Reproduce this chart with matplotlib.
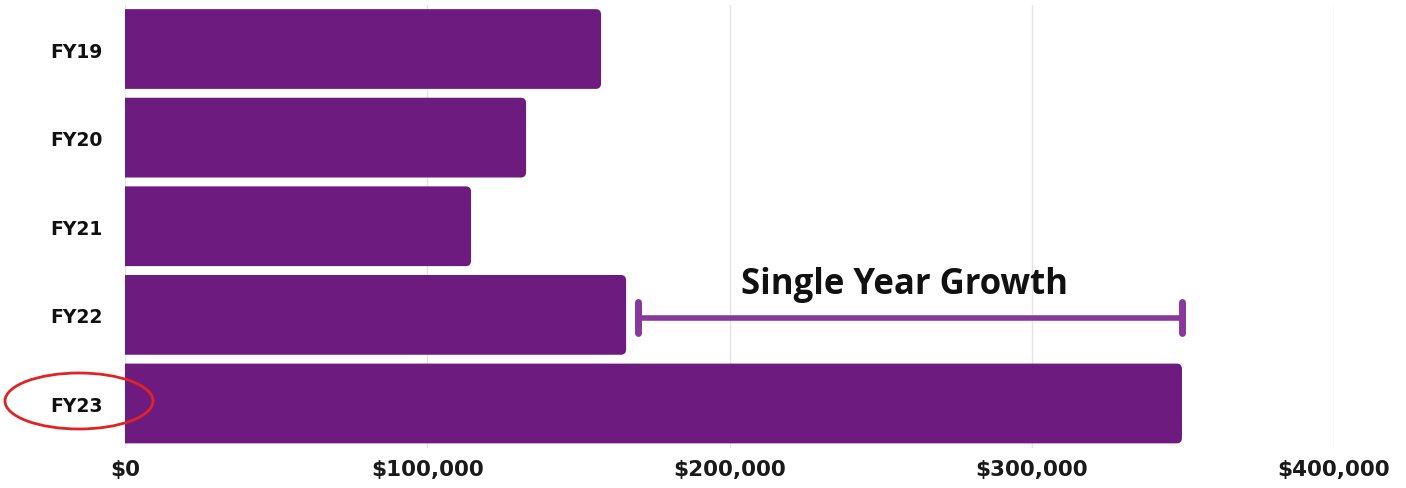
import matplotlib
matplotlib.use("Agg")
import matplotlib.pyplot as plt
from matplotlib.patches import Ellipse, FancyBboxPatch

categories = ["FY19", "FY20", "FY21", "FY22", "FY23"]
values = [157500, 132700, 114500, 165800, 349700]
xticks = [0, 100000, 200000, 300000, 400000]
xtick_labels = ["$0", "$100,000", "$200,000", "$300,000", "$400,000"]
bracket_start = 169800
bracket_end = 349700
bracket_label = "Single Year Growth"

bar_color = "#6d1b7f"
bracket_color = "#88379b"

plt.rcParams['font.family'] = ['DejaVu Sans']

fig = plt.figure(figsize=(14.06, 4.89), dpi=100)
ax = fig.add_axes([125/1406, 1 - 448.8/489, (1334 - 125)/1406, (448.8 - 5.7)/489])

ypos = list(range(len(categories)))
bars = ax.barh(ypos, values, height=0.9, color=bar_color, zorder=3)

ax.set_xlim(0, 400000)
ax.set_ylim(4.5, -0.5)

# rounded right corners
rx = 1700
aspect = (5.5 / 88.6) / rx
for b in bars:
    x, y, w, h = b.get_x(), b.get_y(), b.get_width(), b.get_height()
    b.set_visible(False)
    p = FancyBboxPatch((x - 5000, y), w + 5000, h,
                       boxstyle=f"round,pad=0,rounding_size={rx}",
                       mutation_aspect=aspect, facecolor=bar_color,
                       edgecolor='none', zorder=3)
    ax.add_patch(p)

ax.set_xticks(xticks)
ax.set_xticklabels(xtick_labels, fontsize=15.5, fontweight='bold', color='#1a1a1a')
ax.set_yticks(ypos)
ax.set_yticklabels(categories, fontsize=13.5, fontweight='bold', color='#111111')
ax.tick_params(axis='both', length=0)
ax.tick_params(axis='y', pad=16)
ax.tick_params(axis='x', pad=8)
for s in ax.spines.values():
    s.set_visible(False)
ax.grid(axis='x', color='#e4e4e4', linewidth=1, zorder=0)
ax.set_axisbelow(True)

# bracket
yb = 3.03
ax.plot([bracket_start, bracket_end], [yb, yb], color=bracket_color, lw=4, zorder=4, solid_capstyle='butt')
for xv in (bracket_start, bracket_end):
    ax.plot([xv, xv], [yb - 0.17, yb + 0.17], color=bracket_color, lw=5, zorder=4, solid_capstyle='round')
ax.text((bracket_start + bracket_end) / 2 - 1800, yb - 0.17, bracket_label, ha='center', va='bottom',
        fontsize=25, fontweight='bold', color='#111111', zorder=5, family=['Open Sans', 'DejaVu Sans'])

# red ellipse annotation
ell = Ellipse((79/1406, 1 - 402/489), 148/1406, 56/489, transform=fig.transFigure,
              fill=False, edgecolor='#e02424', linewidth=2, zorder=10)
fig.patches.append(ell)

fig.savefig("out.png", dpi=100)
